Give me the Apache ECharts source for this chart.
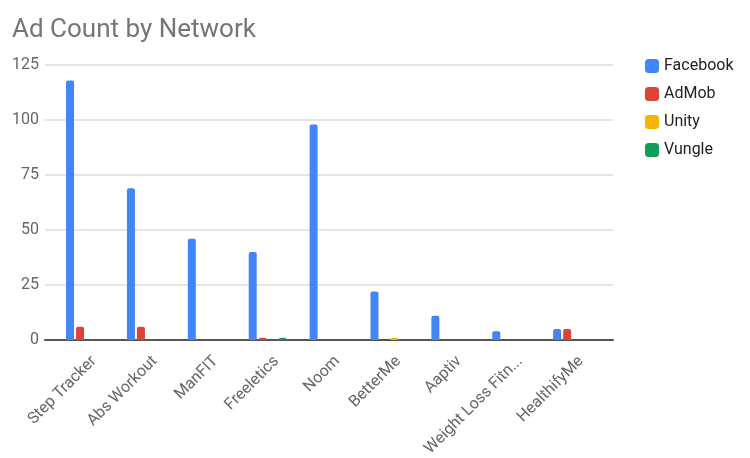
<!DOCTYPE html>
<html>
<head>
<meta charset="utf-8">
<script src="https://cdn.jsdelivr.net/npm/echarts@6/dist/echarts.min.js"></script>
<style>html,body{margin:0;padding:0;background:#fff;}#c{width:750px;height:458px;}</style>
</head>
<body>
<div id="c"></div>
<script>
const categories = ['Step Tracker','Abs Workout','ManFIT','Freeletics','Noom','BetterMe','Aaptiv','Weight Loss Fitn...','HealthifyMe'];
const facebook = [118, 69, 46, 40, 98, 22, 11, 4, 5];
const admob    = [6, 6, 0, 1, 0, 0, 0, 0, 5];
const unity    = [0, 0, 0, 0, 0, 1, 0, 0, 0];
const vungle   = [0, 0, 0, 1, 0, 0, 0, 0, 0];
const yTicks = [0, 25, 50, 75, 100, 125];

const font = 'Roboto, Arial, sans-serif';
const chart = echarts.init(document.getElementById('c'), null, {renderer:'canvas'});
function bar(name, data, color){
  return {name, type:'bar', xAxisIndex:1, yAxisIndex:1, data: data.map(v => v === 0 ? null : v),
    barWidth:8, barGap:'25%', itemStyle:{color, borderRadius:[2,2,0,0]}};
}
chart.setOption({
  animation:false,
  title:{text:'Ad Count by Network', left:7, top:12,
    textStyle:{fontFamily:font, fontSize:26, fontWeight:'normal', color:'#757575'}},
  legend:{orient:'vertical', left:640, top:53, itemWidth:14, itemHeight:14, itemGap:12,
    icon:'roundRect',
    textStyle:{fontFamily:font, fontSize:16, color:'#222'},
    data:['Facebook','AdMob','Unity','Vungle']},
  grid:[
    {left:45, right:137, top:65, bottom:118, containLabel:false, outerBoundsMode:'none'},
    {left:54.6, right:147.4, top:65, bottom:118, containLabel:false, outerBoundsMode:'none'}
  ],
  xAxis:[
    {type:'category', gridIndex:0, data:[''], axisLabel:{show:false}, axisTick:{show:false},
      axisLine:{lineStyle:{color:'#555', width:2}}},
    {type:'category', gridIndex:1, data:categories, axisTick:{show:false}, axisLine:{show:false},
      axisLabel:{rotate:45, margin:10, interval:0, verticalAlign:'top', lineHeight:25,
        fontFamily:font, fontSize:16, color:'#666'}}
  ],
  yAxis:[
    {type:'value', gridIndex:0, min:yTicks[0], max:yTicks[yTicks.length-1], interval:25,
      axisLine:{show:false}, axisTick:{show:false},
      axisLabel:{margin:6, fontFamily:font, fontSize:16, color:'#666'},
      splitLine:{lineStyle:{color:'#ddd', width:1.5}}},
    {type:'value', gridIndex:1, min:yTicks[0], max:yTicks[yTicks.length-1], interval:25,
      axisLine:{show:false}, axisTick:{show:false}, axisLabel:{show:false}, splitLine:{show:false}}
  ],
  series:[
    bar('Facebook', facebook, '#4285F4'),
    bar('AdMob', admob, '#DB4437'),
    bar('Unity', unity, '#F4B400'),
    bar('Vungle', vungle, '#0F9D58')
  ]
});
</script>
</body>
</html>
